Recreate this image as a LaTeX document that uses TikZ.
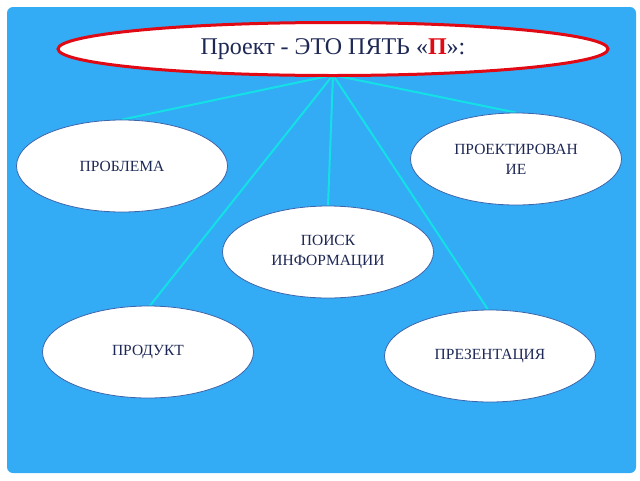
\documentclass[tikz,border=0pt]{standalone}
\usepackage{fontspec}
\setmainfont{Liberation Serif}
\usetikzlibrary{shapes.geometric,backgrounds}
\definecolor{bgblue}{RGB}{51,172,245}
\definecolor{linecyan}{RGB}{20,225,230}
\definecolor{txtnavy}{RGB}{30,40,85}
\definecolor{edgeblue}{RGB}{60,100,170}
\definecolor{titlered}{RGB}{225,10,20}
\tikzset{
  oval/.style={ellipse, draw=edgeblue, line width=0.8pt, fill=white, minimum width=211pt, minimum height=92pt, inner sep=0pt, align=center, text=txtnavy, font=\fontsize{15.5}{20}\selectfont},
  link/.style={draw=linecyan, line width=2pt},
}
\begin{document}
\begin{tikzpicture}[x=1pt,y=-1pt]
\useasboundingbox (0,0) rectangle (640,480);
\node[oval] (problema) at (122,166) {ПРОБЛЕМА};
\node[oval] (proekt) at (516,159) {ПРОЕКТИРОВАН\\ИЕ};
\node[oval] (poisk) at (328,252) {ПОИСК\\ИНФОРМАЦИИ};
\node[oval] (produkt) at (148,352) {ПРОДУКТ};
\node[oval] (prezent) at (490,356) {ПРЕЗЕНТАЦИЯ};
\node[ellipse, draw=titlered, line width=3pt, fill=white, minimum width=550pt, minimum height=53pt, inner sep=0pt, text=txtnavy, font=\fontsize{24}{28}\selectfont] (title) at (333,49) {Проект - ЭТО ПЯТЬ «\textcolor{titlered}{\textbf{П}}»:};
\coordinate (apex) at (333,75);
\begin{scope}[on background layer]
\fill[white] (0,0) rectangle (640,480);
\fill[bgblue, rounded corners=6pt] (7,7) rectangle (636,473);
\path[link] (apex) -- (problema.north);
\path[link] (apex) -- (proekt.north);
\path[link] (apex) -- (poisk.north);
\path[link] (apex) -- ([xshift=2pt]produkt.north);
\path[link] (apex) -- ([xshift=-2pt]prezent.north);
\end{scope}
\end{tikzpicture}
\end{document}
